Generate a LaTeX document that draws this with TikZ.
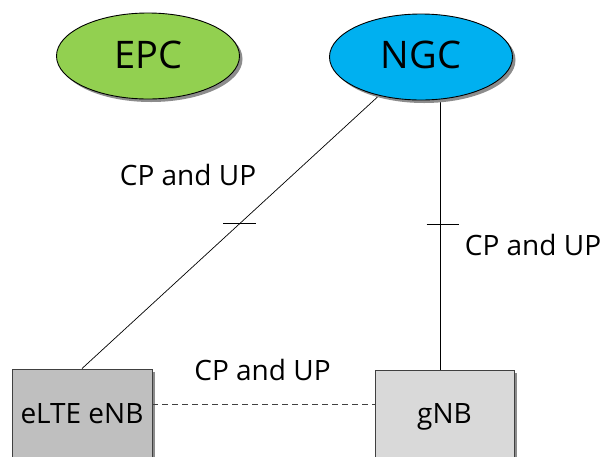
\documentclass[tikz,border=0pt]{standalone}
\usepackage{fontspec}
\setmainfont{Open Sans}
\usetikzlibrary{shapes.geometric,shadows,calc}
\definecolor{epcgreen}{HTML}{92D050}
\definecolor{ngcblue}{HTML}{00B0F0}
\definecolor{eltegray}{HTML}{BFBFBF}
\definecolor{gnbgray}{HTML}{D9D9D9}
\definecolor{shadowgray}{HTML}{8C8C8C}
\tikzset{
  core/.style={ellipse, draw=black, line width=0.9pt, minimum width=183pt, minimum height=86pt, inner sep=0pt,
    drop shadow={shadow xshift=3pt, shadow yshift=-3pt, fill=shadowgray, opacity=1}},
  coretext/.style={anchor=base, inner sep=0pt, font=\fontsize{38}{38}\selectfont},
  basebox/.style={rectangle, draw=black!75, line width=0.9pt, minimum width=140pt, minimum height=92pt, inner sep=0pt,
    drop shadow={shadow xshift=3pt, shadow yshift=-3pt, fill=shadowgray, opacity=1}},
  lbl/.style={anchor=base, inner sep=0pt, font=\fontsize{28}{28}\selectfont},
  link/.style={draw=black, line width=0.7pt},
  tick/.style={draw=black, line width=0.7pt}
}
\begin{document}
\begin{tikzpicture}[x=1pt,y=-1pt]
\clip (0,0) rectangle (604,456);
\fill[white] (0,0) rectangle (604,456);
% boxes
\node[basebox, fill=eltegray] (elte) at (82,415) {};
\node[basebox, fill=gnbgray, minimum width=139pt] (gnb) at (444.5,416) {};
% links (drawn before ellipses so ellipses cover ends)
\path (421,57) coordinate (ngcc);
\coordinate (vb) at ($(gnb.north)+(-4,0)$);
\draw[link] (ngcc) -- (elte.north) coordinate[pos=0.535] (t1);
\draw[link] (vb) -- (vb |- ngcc) coordinate[pos=0.466] (t2);
\draw[tick] ($(t1)+(-16.5,0)$) -- ($(t1)+(16.5,0)$);
\draw[tick] ($(t2)+(-14,0)$) -- ($(t2)+(18,0)$);
\draw[link, dashed, dash pattern=on 6pt off 4pt, draw=black!75] ($(elte.north east)+(0,36)$) -- ($(gnb.north west)+(0,35)$);
% cores
\node[core, fill=epcgreen] (epc) at (148,56) {};
\node[core, fill=ngcblue] (ngc) at (ngcc) {};
\node[coretext] (epct) at (148,68) {EPC};
\node[coretext] (ngct) at (421,68) {NGC};
% box texts
\node[lbl] (eltet) at (82,423) {eLTE eNB};
\node[lbl] (gnbt) at (444.5,423) {gNB};
% link labels
\node[lbl] (l1) at (188,185) {CP and UP};
\node[lbl] (l2) at (533,255) {CP and UP};
\node[lbl] (l3) at (262.5,380) {CP and UP};
\end{tikzpicture}
\end{document}
